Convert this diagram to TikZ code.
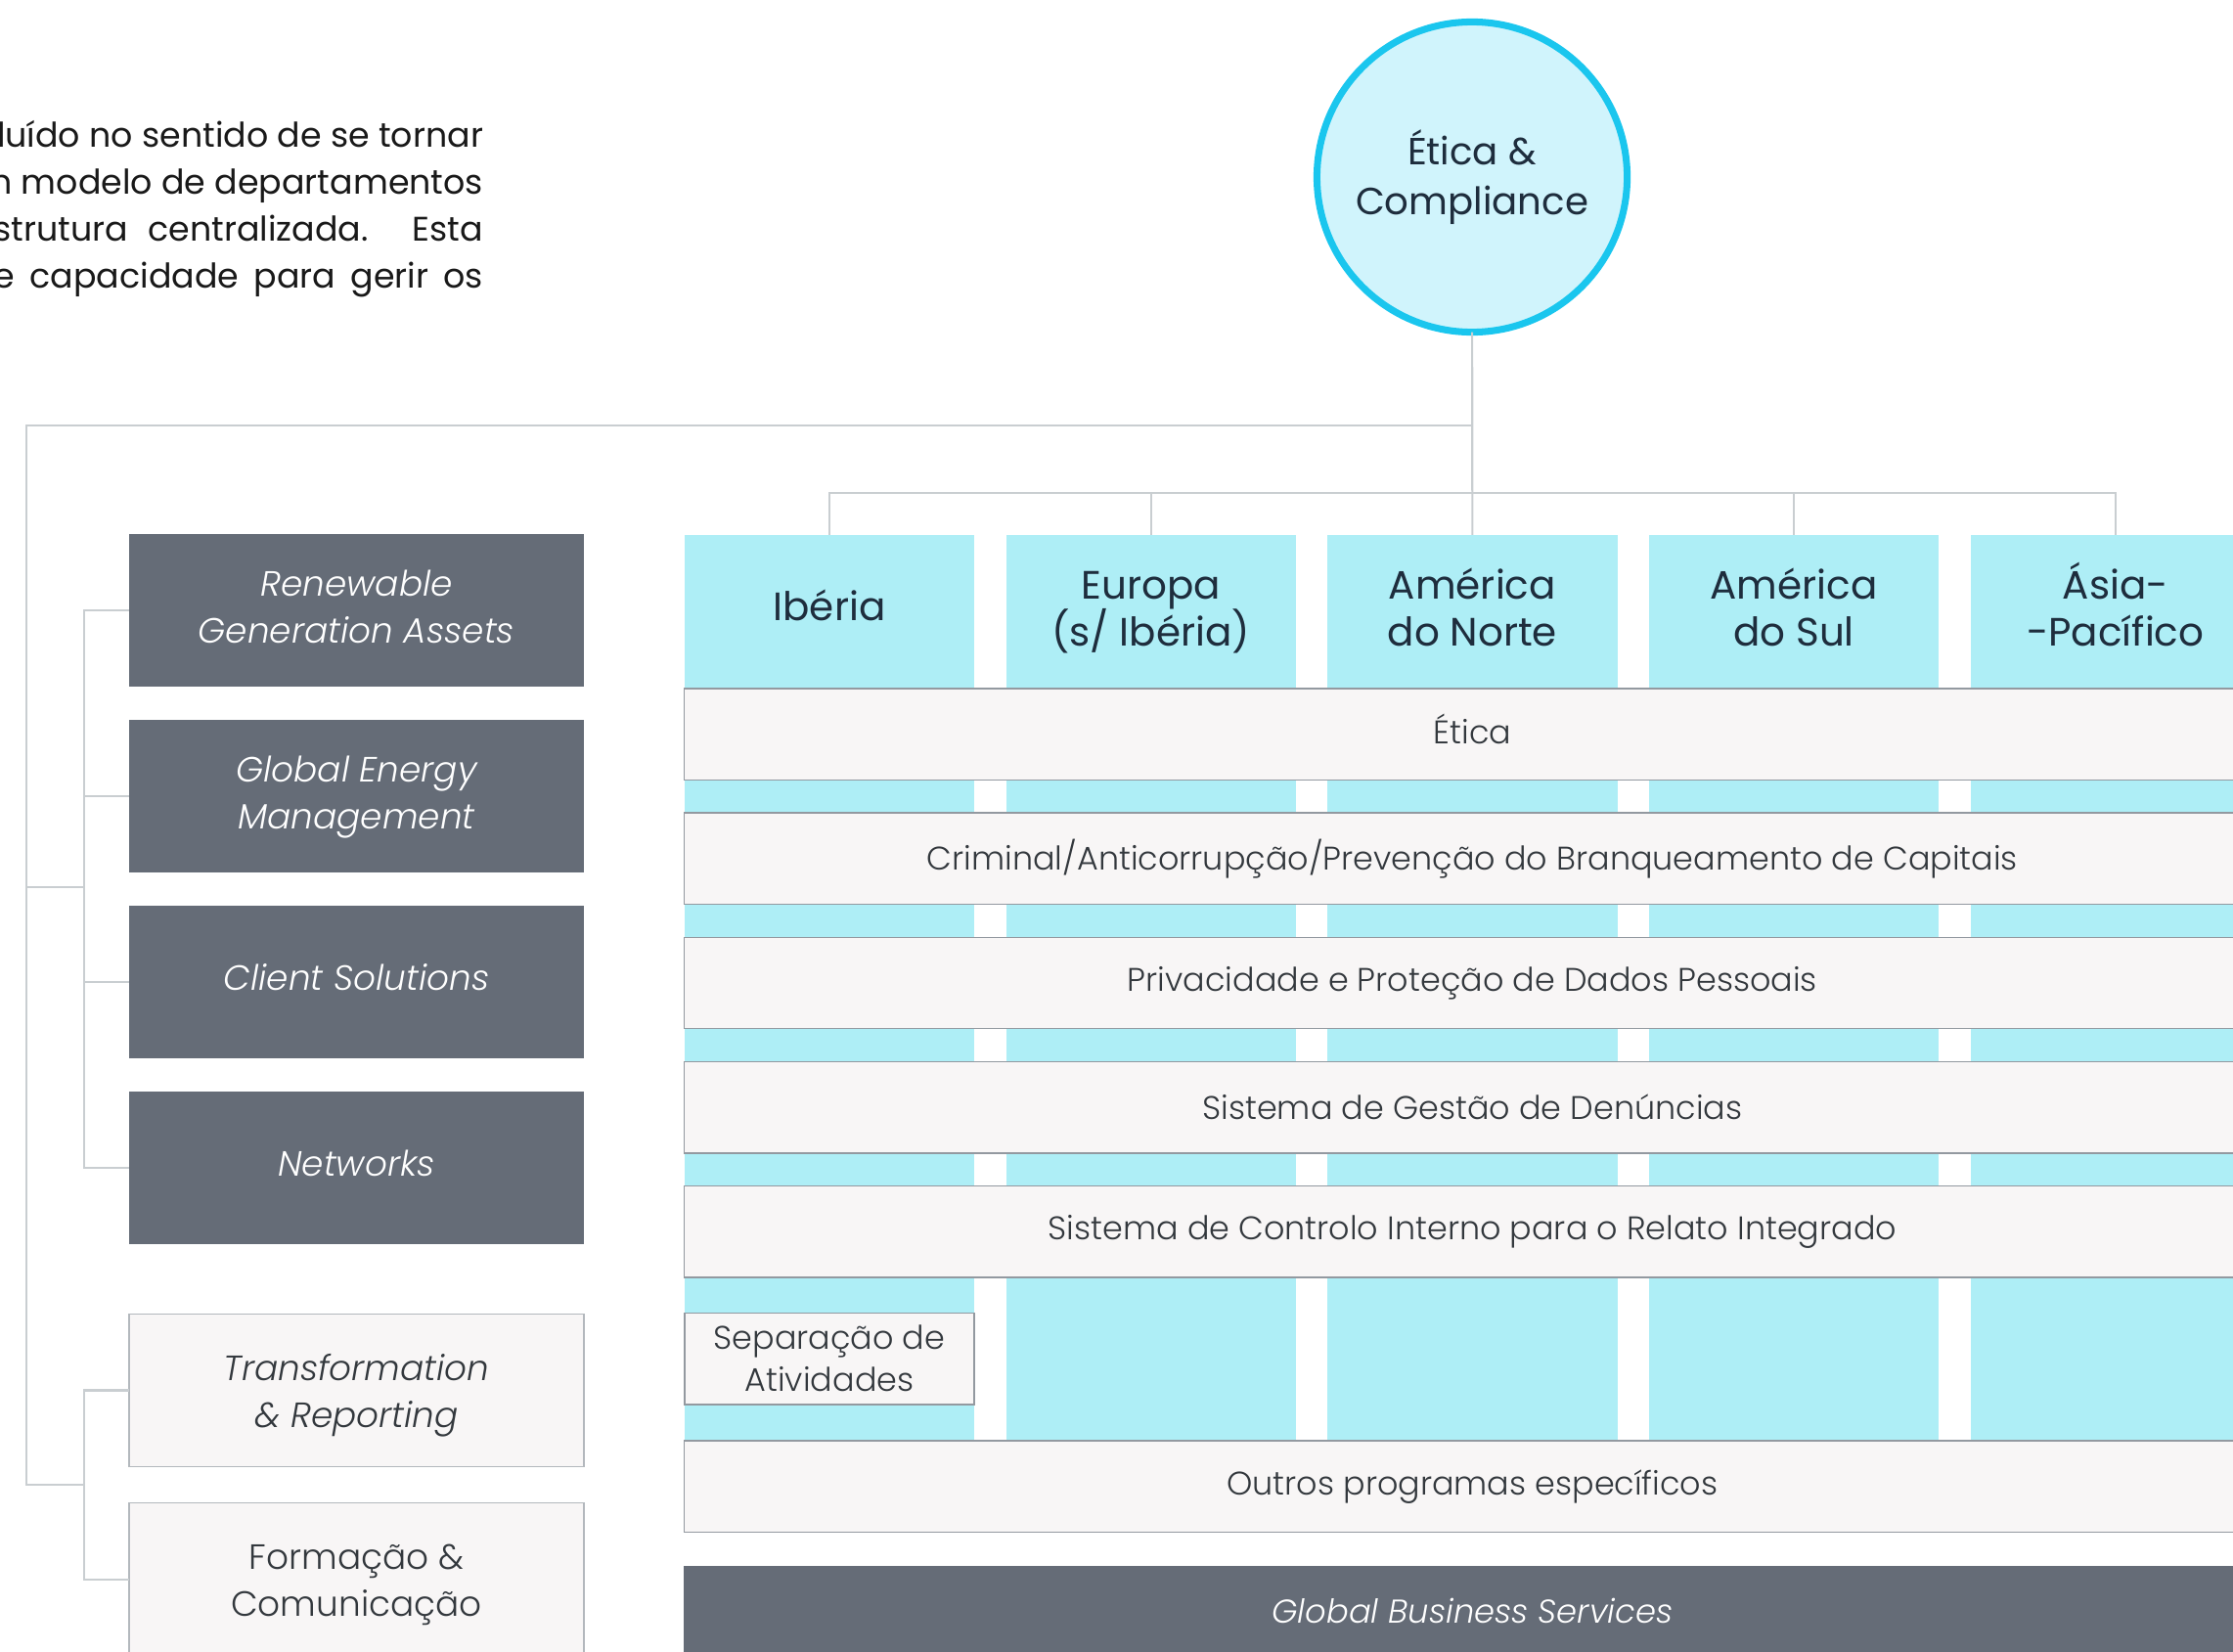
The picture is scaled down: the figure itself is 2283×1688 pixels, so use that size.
\documentclass[tikz,border=0pt]{standalone}
\usepackage{fontspec}
\setmainfont{Poppins}
\newfontfamily\lightfont{Poppins Light}
\usetikzlibrary{positioning, backgrounds}

\definecolor{ecyan}{HTML}{AEEEF6}
\definecolor{eblue}{HTML}{1AC6EE}
\definecolor{epale}{HTML}{D0F4FC}
\definecolor{eslate}{HTML}{656C77}
\definecolor{erow}{HTML}{F8F6F6}
\definecolor{eline}{HTML}{C9CED1}
\definecolor{eedge}{HTML}{9399A0}
\definecolor{enavy}{HTML}{1E2D3D}
\definecolor{etext}{HTML}{33383D}

\begin{document}
\begin{tikzpicture}[x=0.01cm, y=-0.01cm,
  every node/.style={outer sep=0pt},
  link/.style={draw=eline, line width=0.6pt},
  lift/.style={execute at begin node={\vrule width0pt height#1},
    execute at end node={\vrule width0pt height0pt depth0.55em}},
  lift/.default=1em,
  hub/.style={circle, draw=eblue, fill=epale, line width=2pt, minimum size=3.17cm,
    align=center, text=enavy, font=\fontsize{11}{14.5}\selectfont},
  region/.style={fill=ecyan, minimum width=2.96cm, minimum height=1.57cm, inner sep=0pt,
    align=center, text=enavy, font={\fontsize{11.5}{13.4}\selectfont\lineskiplimit-10pt}},
  topic/.style={draw=eedge, line width=0.4pt, fill=erow, minimum width=2.96cm,
    minimum height=0.935cm, inner sep=0pt, align=center, text=etext,
    font={\lightfont\fontsize{9.5}{12.2}\selectfont\lineskiplimit-10pt}},
  band/.style={topic, minimum width=16.11cm},
  unit/.style={fill=eslate, minimum width=4.65cm, minimum height=1.56cm, inner sep=0pt,
    align=center, text=white, font=\lightfont\itshape\fontsize{10.2}{13.7}\selectfont},
  support/.style={fill=erow, draw=eedge!70, line width=0.4pt, minimum width=4.65cm,
    minimum height=1.56cm, inner sep=0pt, align=center, text=etext,
    execute at begin node={\vrule width0pt height24.3pt},
    font=\lightfont\itshape\fontsize{10.2}{13.7}\selectfont}
]
\useasboundingbox (0,0) rectangle (2283,1688);

\node[anchor=east, align=right, inner sep=0pt, text=black!90,
  font=\fontsize{9.9}{13.66}\selectfont] (txt) at (494,214)
  {luído no sentido de se tornar\\
   n modelo de departamentos\\
   \makebox[5cm][s]{strutura centralizada. Esta}\\
   \makebox[5cm][s]{e capacidade para gerir os}};

\node[hub] (ec) at (1505,181) {Ética \&\\Compliance};

% regions
\node[region, lift] (ib) at (848,625.5) {Ibéria};
\node[region, lift=26pt, right=0.325cm of ib] (eu) {Europa\\(s/ Ibéria)};
\node[region, lift=26pt, right=0.325cm of eu] (an) {América\\do Norte};
\node[region, lift=26pt, right=0.325cm of an] (as) {América\\do Sul};
\node[region, lift=26pt, right=0.325cm of as] (ap) {Ásia-\\-Pacífico};

% programmes
\node[band, lift=1.15em, below=0pt of an] (eti) {Ética};
\node[band, below=0.335cm of eti] (cri) {Criminal/Anticorrupção/Prevenção do Branqueamento de Capitais};
\node[band, below=0.335cm of cri] (pdp) {Privacidade e Proteção de Dados Pessoais};
\node[band, below=0.335cm of pdp] (sgd) {Sistema de Gestão de Denúncias};
\node[band, below=0.335cm of sgd] (sci) {Sistema de Controlo Interno para o Relato Integrado};
\node[topic] (sep) at (848,1389) {Separação de\\Atividades};
\node[band, below=1.67cm of sci] (out) {Outros programas específicos};
\node[fill=eslate, minimum width=16.11cm, minimum height=0.935cm, below=0.34cm of out,
  text=white, font=\lightfont\itshape\fontsize{9.6}{12}\selectfont] (gbs) {Global Business Services};

\begin{scope}[on background layer]
\foreach \c in {ib,eu,an,as,ap}
  \fill[ecyan] (\c.south west) rectangle (\c.east |- out.north);
\end{scope}

% business units
\node[unit, lift=24.5pt] (rga) at (364.5,624) {Renewable\\Generation Assets};
\node[unit, lift=24.5pt, below=0.34cm of rga] (gem) {Global Energy\\Management};
\node[unit, lift, below=0.34cm of gem] (cs) {Client Solutions};
\node[unit, lift, below=0.34cm of cs] (net) {Networks};
\node[support, below=0.71cm of net] (trp) {Transformation\\\& Reporting};
\node[support, below=0.37cm of trp, font=\lightfont\fontsize{10.2}{13.7}\selectfont] (fc) {Formação \&\\Comunicação};

\coordinate (lt) at (27,435);
\coordinate (ub) at (27,907);
\coordinate (lb) at (27,1518);
\coordinate (bus) at (86,0);
\coordinate (bar) at (1505,504);

\draw[link] (ec) -- (an);
\draw[link] (ib.north) |- (bar) -| (ap.north);
\foreach \c in {eu,as}
  \draw[link] (\c.north) -- (\c.north |- bar);
\draw[link] (ec |- lt) -- (lt) -- (lb) -- (lb -| bus);
\draw[link] (ub) -- (ub -| bus);
\draw[link] (rga.west) -- (rga.west -| bus) -- (net.west -| bus) -- (net.west);
\foreach \u in {gem,cs}
  \draw[link] (\u.west) -- (\u.west -| bus);
\draw[link] (trp.west) -- (trp.west -| bus) -- (fc.west -| bus) -- (fc.west);

\end{tikzpicture}
\end{document}
